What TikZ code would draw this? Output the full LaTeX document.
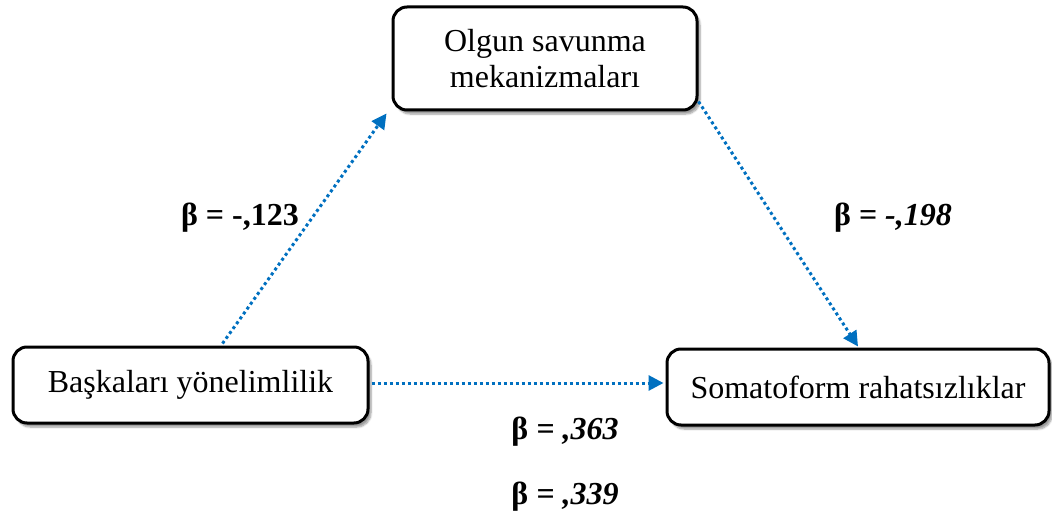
\documentclass[tikz,border=0pt]{standalone}
\usepackage{fontspec}
\setmainfont{Liberation Serif}
\usetikzlibrary{arrows.meta,calc,shadows.blur}
\definecolor{pathblue}{RGB}{0,112,192}
\tikzset{
  varbox/.style={draw=black, line width=3pt, rounded corners=14pt, fill=white,
    align=center, inner sep=0pt, font=\fontsize{32}{36}\selectfont,
    blur shadow={shadow xshift=3pt, shadow yshift=-4pt, shadow blur steps=6, shadow opacity=40}},
  effect/.style={draw=pathblue, line width=3pt, dash pattern=on 3pt off 3pt,
    -{Triangle[length=15pt,width=15pt]}},
  coef/.style={font=\fontsize{32}{36}\selectfont\bfseries, inner sep=0pt}
}
\begin{document}
\begin{tikzpicture}[x=1pt,y=-1pt]
  \useasboundingbox (0,0) rectangle (1052,524);
  % variables
  \node[varbox, minimum width=304pt, minimum height=103pt] (med) at (545,58.5)
    {Olgun savunma\\mekanizmaları};
  \node[varbox, minimum width=355pt, minimum height=76pt] (pred) at (190.5,385)
    {Başkaları yönelimlilik};
  \node[varbox, minimum width=382pt, minimum height=76pt] (out) at (858,387)
    {Somatoform rahatsızlıklar};
  % paths
  \draw[effect] ($(pred.north)+(32,-2)$) -- ($(med.south west)+(-5,2)$);
  \draw[effect] ($(med.south east)+(0,-10)$) -- ($(out.north)+(0,-1)$);
  \draw[effect] ($(pred.east)+(2,-2)$) -- ($(out.west)+(-2,-4)$);
  % coefficients
  \node[coef] (b1) at (240,218) {β = -,123};
  \node[coef] (b2) at (893,218) {β \textit{= -,198}};
  \node[coef] (b3) at (565,432) {β \textit{= ,363}};
  \node[coef] (b4) at (565,497) {β \textit{= ,339}};
\end{tikzpicture}
\end{document}
